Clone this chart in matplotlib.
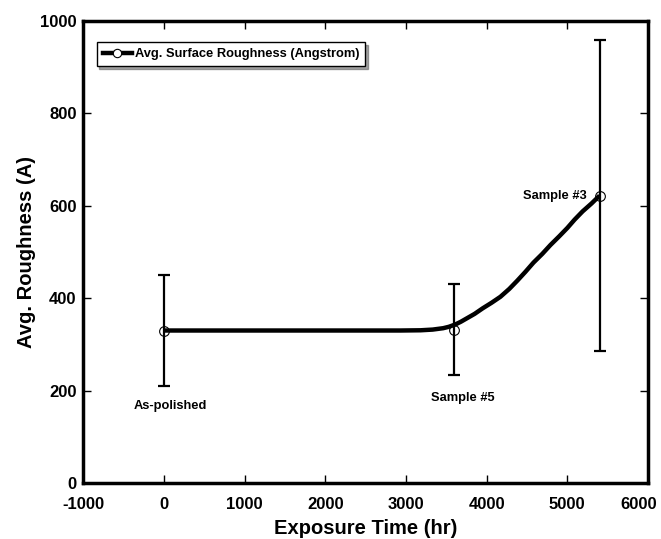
import matplotlib.pyplot as plt
from matplotlib.transforms import ScaledTranslation

plt.rcParams['font.family'] = ['Liberation Sans', 'DejaVu Sans']
plt.rcParams['font.weight'] = 'bold'
plt.rcParams['axes.unicode_minus'] = False

# measured samples
hours = [0, 3600, 5400]
rough = [330, 332, 622]
rough_err = [120, 98, 336]
names = ["As-polished", "Sample #5", "Sample #3"]

# smooth trend line
curve_x = [0, 1000, 2000, 2930, 3180, 3330, 3460, 3530, 3610, 3680, 3750, 3850, 3950, 4060,
           4170, 4280, 4380, 4480, 4580, 4690, 4790, 4900, 5000, 5090, 5190, 5300, 5400]
curve_y = [330, 330, 330, 330, 330.5, 332, 335, 338, 343, 349, 356, 366, 378, 390,
           403, 420, 438, 457, 477, 496, 515, 534, 552, 570, 588, 605, 622]

fig = plt.figure(figsize=(6.61, 5.39), dpi=100)
ax = fig.add_axes([0.1263, 0.104, 0.854, 0.857])

ax.plot(curve_x, curve_y, color="black", linewidth=3.2, solid_capstyle="butt",
        solid_joinstyle="round", zorder=2)
ax.errorbar(hours, rough, yerr=rough_err, fmt="none", ecolor="black", elinewidth=1.6,
            capsize=4.5, capthick=1.6, zorder=3)
ax.plot(hours, rough, linestyle="none", marker="o", markersize=7, markerfacecolor="none",
        markeredgecolor="black", markeredgewidth=0.8, zorder=4)

# legend proxy
ax.plot([], [], color="black", linewidth=3.2, marker="o", markersize=6, markerfacecolor="white",
        markeredgecolor="black", markeredgewidth=0.8, label="Avg. Surface Roughness (Angstrom)")
leg = ax.legend(loc="upper left", bbox_to_anchor=(0.012, 0.968), fancybox=False, shadow=True,
                edgecolor="black", framealpha=1, prop={"size": 9.3, "weight": "bold"},
                handlelength=2.3, borderpad=0.45, handletextpad=0.2)
leg.get_frame().set_linewidth(1.0)

ax.text(74, 167, names[0], fontsize=9.3, fontweight="bold", ha="center", va="center")
ax.text(3710, 184, names[1], fontsize=9.3, fontweight="bold", ha="center", va="center")
ax.text(5236, 622, names[2], fontsize=9.3, fontweight="bold", ha="right", va="center")

ax.set_xlim(-1000, 6000)
ax.set_ylim(0, 1000)
ax.set_xticks(range(-1000, 6001, 1000))
ax.set_yticks(range(0, 1001, 200))
ax.tick_params(direction="in", top=True, right=True, length=6, width=1, labelsize=12)
ax.tick_params(axis="x", pad=10)
ax.tick_params(axis="y", pad=5)
for lab in ax.get_xticklabels() + ax.get_yticklabels():
    lab.set_fontweight("bold")
last = ax.get_xticklabels()[-1]
last.set_ha("right")
last.set_transform(last.get_transform() + ScaledTranslation(9 / 100, 0, fig.dpi_scale_trans))
for s in ax.spines.values():
    s.set_linewidth(2.5)

ax.set_xlabel("Exposure Time (hr)", fontsize=14.5, fontweight="bold", labelpad=5)
ax.set_ylabel("Avg. Roughness (A)", fontsize=14.5, fontweight="bold", labelpad=3)

fig.savefig("out.png", dpi=100)
